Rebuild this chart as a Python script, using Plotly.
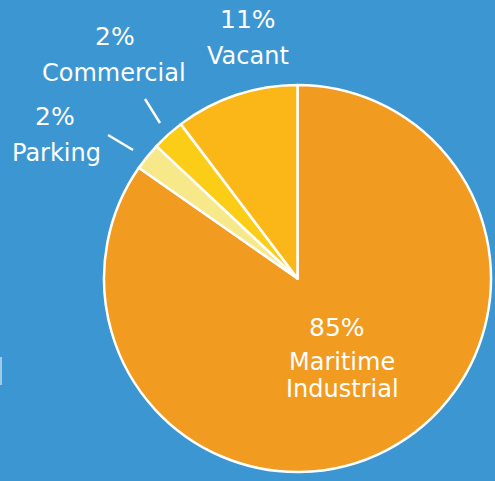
import plotly.graph_objects as go

W, H = 495, 481

# Data (clockwise from 12 o'clock)
categories = ["Maritime Industrial", "Parking", "Commercial", "Vacant"]
values = [84.7, 2.3, 2.7, 10.3]
pct_labels = ["85%", "2%", "2%", "11%"]
name_lines = [["Maritime", "Industrial"], ["Parking"], ["Commercial"], ["Vacant"]]
colors = ["#F29B21", "#F7E88A", "#FBCD17", "#FBB617"]

BG = "#3C96D2"
FONT = "DejaVu Sans"

def px(x):
    return x / W

def py(y):
    return 1 - y / H

fig = go.Figure(go.Pie(
    labels=categories,
    values=values,
    sort=False,
    direction="clockwise",
    rotation=0,
    marker=dict(colors=colors, line=dict(color="white", width=2.5)),
    textinfo="none",
    hoverinfo="label+percent",
    domain=dict(x=[px(103), px(492)], y=[py(472), py(85)]),
    showlegend=False,
))

# label positions (pixel centres of each text line)
label_pos = {
    "Maritime Industrial": [(337, 327), (342, 362), (342, 389)],
    "Parking": [(55, 117), (56, 153)],
    "Commercial": [(115, 36), (114, 73)],
    "Vacant": [(248, 19), (248, 56)],
}

annotations = []
for cat, pct, lines in zip(categories, pct_labels, name_lines):
    texts = [pct] + lines
    for t, (x, y) in zip(texts, label_pos[cat]):
        annotations.append(dict(
            x=px(x), y=py(y), xref="paper", yref="paper",
            text=t, showarrow=False, xanchor="center", yanchor="middle",
            font=dict(family=FONT, size=25 if t.endswith("%") else 24, color="white"),
        ))

# short leader ticks
ticks = [((108, 135), (133, 150)), ((145, 99), (160, 123))]
shapes = []
for (x0, y0), (x1, y1) in ticks:
    shapes.append(dict(type="line", xref="paper", yref="paper",
                       x0=px(x0), y0=py(y0), x1=px(x1), y1=py(y1),
                       line=dict(color="white", width=2.5)))
# faint cropped mark on left edge
shapes.append(dict(type="rect", xref="paper", yref="paper",
                   x0=0, x1=px(2), y0=py(385), y1=py(357),
                   fillcolor="rgba(255,255,255,0.5)", line=dict(width=0)))

fig.update_layout(
    width=W, height=H,
    margin=dict(l=0, r=0, t=0, b=0),
    paper_bgcolor=BG, plot_bgcolor=BG,
    annotations=annotations,
    shapes=shapes,
)

fig.write_html(
    "out.html",
    config={"displayModeBar": False},
    post_script="document.body.style.margin='0';document.body.style.padding='0';"
                "document.documentElement.style.background='" + BG + "';",
)
